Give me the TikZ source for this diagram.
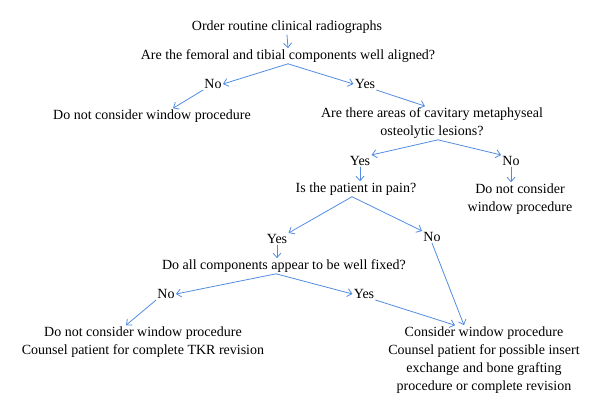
\documentclass[tikz,border=0pt]{standalone}
\usepackage{fontspec}
\setmainfont{Liberation Serif}
\usetikzlibrary{arrows.meta}

\definecolor{flowblue}{RGB}{82,140,226}

\begin{document}
\begin{tikzpicture}[x=1pt, y=-1pt, line cap=round, line join=round,
    txt/.style={inner sep=1.2pt, align=center,
                font=\fontsize{14}{18}\selectfont},
    arr/.style={draw=flowblue, line width=0.8pt,
                -{Straight Barb[length=4.5pt, width=8pt]}}]

  \useasboundingbox (0,0) rectangle (600,419);

  % ── questions down the middle ─────────────────────────────────────────────

  \node[txt] (order) at (287,27) {Order routine clinical radiographs};
  \node[txt] (align) at (288,56) {Are the femoral and tibial components well aligned?};
  \node[txt] (lesion) at (432,123) {Are there areas of cavitary metaphyseal\\osteolytic lesions?};
  \node[txt] (pain) at (356,189) {Is the patient in pain?};
  \node[txt] (fixed) at (284,266) {Do all components appear to be well fixed?};

  % ── yes / no answers ──────────────────────────────────────────────────────

  \node[txt] (noA) at (213,84) {No};
  \node[txt] (yesA) at (365,84) {Yes};
  \node[txt] (yesB) at (360,161) {Yes};
  \node[txt] (noB) at (511,161) {No};
  \node[txt] (yesC) at (277,239) {Yes};
  \node[txt] (noC) at (432,237) {No};
  \node[txt] (noD) at (166,294) {No};
  \node[txt] (yesD) at (364,294) {Yes};

  % ── outcomes ──────────────────────────────────────────────────────────────

  \node[txt] (skipA) at (152,116) {Do not consider window procedure};
  \node[txt] (skipB) at (520,199) {Do not consider\\window procedure};
  \node[txt] (skipC) at (143,342) {Do not consider window procedure\\Counsel patient for complete TKR revision};
  \node[txt] (window) at (484,360) {Consider window procedure\\Counsel patient for possible insert\\exchange and bone grafting\\procedure or complete revision};

  % ── connectors ────────────────────────────────────────────────────────────

  \draw[arr] (order.south) -- (align.north);
  \draw[arr] (align.south) -- (noA.east);
  \draw[arr] (align.south) -- (yesA.west);
  \draw[arr] (noA.south west) -- ([xshift=21pt]skipA.north);
  \draw[arr] (yesA.south east) -- ([xshift=-7pt]lesion.north);

  \draw[arr] ([xshift=6pt]lesion.south) -- (yesB.north east);
  \draw[arr] ([xshift=6pt]lesion.south) -- (noB.north west);
  \draw[arr] (yesB.south) -- (yesB.south |- pain.north);
  \draw[arr] (noB.south) -- (noB.south |- skipB.north);

  \draw[arr] ([xshift=-4pt]pain.south) -- (yesC.north east);
  \draw[arr] ([xshift=-4pt]pain.south) -- (noC.north west);
  \draw[arr] (yesC.south) -- (yesC.south |- fixed.north);
  \draw[arr] (noC.south) -- ([xshift=-20pt]window.north);

  \draw[arr] ([xshift=-8pt]fixed.south) -- (noD.east);
  \draw[arr] ([xshift=-8pt]fixed.south) -- (yesD.west);
  \draw[arr] (noD.south west) -- ([xshift=-17pt]skipC.north);
  \draw[arr] (yesD.south east) -- ([xshift=-29pt]window.north);

\end{tikzpicture}
\end{document}
